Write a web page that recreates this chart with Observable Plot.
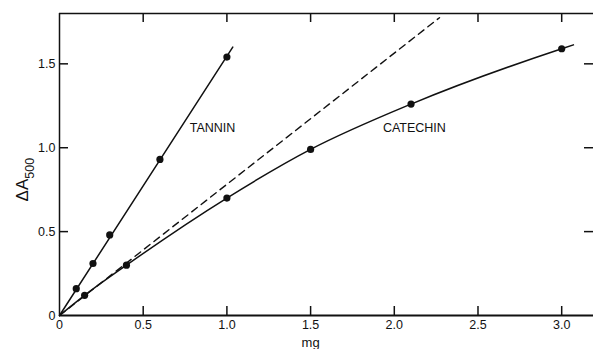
<!DOCTYPE html>
<html><head><meta charset="utf-8">
<script src="https://cdn.jsdelivr.net/npm/d3@7"></script>
<script src="https://cdn.jsdelivr.net/npm/@observablehq/plot@0.6"></script>
<style>body{margin:0;background:#fff} svg{display:block}</style>
</head><body><div id="chart"></div>
<script>
// Data (ΔA500 vs mg)
const tanninMg = [0.1, 0.2, 0.3, 0.6, 1.0];
const tanninA = [0.16, 0.31, 0.48, 0.93, 1.54];
const tanninLineMg = [0, 1.035];
const tanninLineA = [0, 1.60];
const catechinMg = [0.15, 0.4, 1.0, 1.5, 2.1, 3.0];
const catechinA = [0.12, 0.30, 0.70, 0.99, 1.26, 1.59];
const catechinCurveMg = [0, 0.15, 0.4, 1.0, 1.5, 2.1, 3.0, 3.07];
const catechinCurveA = [0, 0.12, 0.30, 0.70, 0.99, 1.26, 1.59, 1.613];
const initialSlopeMg = [0, 2.27];
const initialSlopeA = [0, 1.775];
const xTicks = [0, 0.5, 1.0, 1.5, 2.0, 2.5, 3.0];
const yTicks = [0, 0.5, 1.0, 1.5];
const seriesLabels = ["TANNIN", "CATECHIN"];
const labelMg = [0.914, 2.12];
const labelA = [1.12, 1.12];
const xTitle = "mg";
const yTitle = "ΔA";
const yTitleSub = "500";
const xDomain = [0, 3.19];
const yDomain = [0, 1.8];

const W = 593, H = 349, mL = 59, mR = 0, mT = 13, mB = 34;
const plotW = W - mL - mR, plotH = H - mT - mB, tickLen = 9;

const zip = (xs, ys) => xs.map((x, i) => ({x, y: ys[i]}));
const fmt = d => d === 0 ? "0" : d.toFixed(1);
const tickStyle = {stroke: "#111", strokeWidth: 1.5};
const innerX = xTicks.filter(d => d > 0);
const innerY = yTicks.filter(d => d > 0);

const chart = Plot.plot({
  width: W, height: H,
  marginLeft: mL, marginRight: mR, marginTop: mT, marginBottom: mB,
  style: {fontFamily: "'Liberation Sans', Arial, sans-serif", fontSize: "12.5px", background: "#fff", color: "#111"},
  x: {domain: xDomain, axis: null},
  y: {domain: yDomain, axis: null},
  marks: [
    Plot.ruleY([yDomain[0]], {strokeWidth: 2, stroke: "#111"}),
    Plot.ruleY([yDomain[1]], {strokeWidth: 1.5, stroke: "#111"}),
    Plot.ruleX([xDomain[0]], {strokeWidth: 1.5, stroke: "#111"}),
    Plot.axisX({anchor: "bottom", ticks: xTicks, tickSize: 0, tickPadding: 5, tickFormat: fmt, label: null}),
    Plot.axisY({anchor: "left", ticks: yTicks, tickSize: 0, tickPadding: 4, tickFormat: fmt, label: null}),
    Plot.ruleX(innerX, {x: d => d, insetTop: plotH - tickLen, ...tickStyle}),
    Plot.ruleX(innerX, {x: d => d, insetBottom: plotH - tickLen, ...tickStyle}),
    Plot.ruleY(innerY, {y: d => d, insetRight: plotW - tickLen, ...tickStyle}),
    Plot.ruleY(innerY, {y: d => d, insetLeft: plotW - tickLen, ...tickStyle}),
    Plot.line(zip(initialSlopeMg, initialSlopeA), {x: "x", y: "y", stroke: "#111", strokeWidth: 1.4, strokeDasharray: "7,5"}),
    Plot.line(zip(tanninLineMg, tanninLineA), {x: "x", y: "y", stroke: "#111", strokeWidth: 1.5}),
    Plot.line(zip(catechinCurveMg, catechinCurveA), {x: "x", y: "y", stroke: "#111", strokeWidth: 1.5, curve: "monotone-x"}),
    Plot.dot(zip(tanninMg, tanninA), {x: "x", y: "y", r: 3.6, fill: "#111", stroke: "none"}),
    Plot.dot(zip(catechinMg, catechinA), {x: "x", y: "y", r: 3.6, fill: "#111", stroke: "none"}),
    Plot.text(seriesLabels, {x: (d, i) => labelMg[i], y: (d, i) => labelA[i], text: d => d, fontSize: 12.5, fill: "#111"}),
    Plot.text([xTitle], {x: [1.5], frameAnchor: "bottom", lineAnchor: "middle", dy: 27, text: d => d, fontSize: 13, fill: "#111"}),
    Plot.text([yTitle], {y: [0.81], frameAnchor: "left", textAnchor: "middle", lineAnchor: "middle", dx: -37, rotate: -90, text: d => d, fontSize: 17, fill: "#111"})
  ]
});

// add subscript to the y title
d3.select(chart).selectAll("text").filter(function() { return this.textContent === yTitle; })
  .each(function() {
    const t = d3.select(this);
    t.text(null);
    t.append("tspan").text(yTitle);
    t.append("tspan").attr("dy", "0.45em").attr("font-size", "12.5px").text(yTitleSub);
  });

document.getElementById("chart").appendChild(chart);
</script>
</body></html>
